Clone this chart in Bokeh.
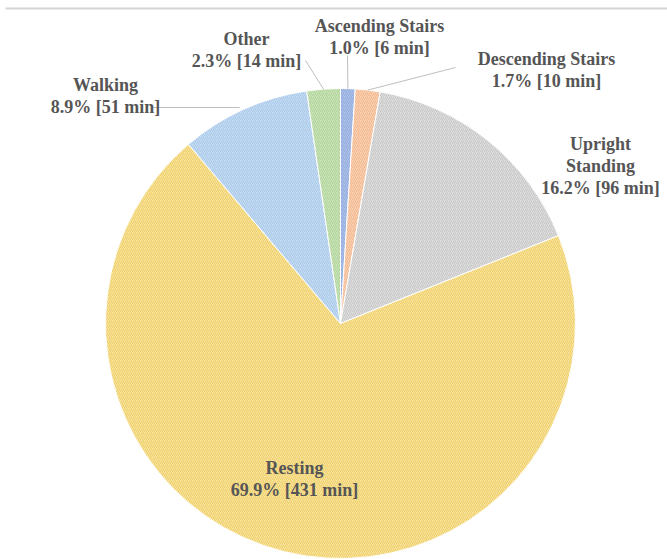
import math
from bokeh.plotting import figure
from bokeh.models import Range1d, ColumnDataSource
from bokeh.core.properties import value
from bokeh.embed import file_html
from bokeh.resources import INLINE

# ---- data ----
categories = ["Ascending Stairs", "Descending Stairs", "Upright Standing", "Resting", "Walking", "Other"]
percents = [1.0, 1.7, 16.2, 69.9, 8.9, 2.3]
minutes = [6, 10, 96, 431, 51, 14]
label_lines = [["Ascending Stairs"], ["Descending Stairs"], ["Upright", "Standing"], ["Resting"], ["Walking"], ["Other"]]

# ---- styles / layout ----
fill_colors = ["#ADC0E8", "#F9D2B6", "#DEDEDE", "#F9E29A", "#C5DBF1", "#CBE3BB"]
hatch_colors = ["#93ACDE", "#F3B68C", "#C6C6C6", "#EDCF6C", "#A9C9EA", "#AFD497"]
W, H = 667, 559
CX, CY, R = 340, 323, 235          # pixel geometry
label_pos = [(379, 25), (546, 58), (600, 143), (294, 467), (105, 84), (246, 38)]  # first-line centers (px)
leaders = [[(347, 55), None], [(455, 67), None], None, None, [(152, 107), None], [(305, 60), None]]
LINE_H = 22

def py(y):
    return H - y

p = figure(width=W, height=H, output_backend="svg", toolbar_location=None,
           x_range=Range1d(0, W), y_range=Range1d(0, H), min_border=0)
p.axis.visible = False
p.grid.visible = False
p.outline_line_color = None
p.background_fill_color = "white"
p.border_fill_color = "white"

# top rule line
p.segment(x0=[5], y0=[py(8)], x1=[W], y1=[py(8)], line_color="#D6D6D6", line_width=2)

total = sum(percents)
starts, ends, mids = [], [], []
cum = 0.0
for v in percents:
    c0 = cum / total
    cum += v
    c1 = cum / total
    starts.append(math.pi / 2 - c1 * 2 * math.pi)
    ends.append(math.pi / 2 - c0 * 2 * math.pi)
    mids.append(math.pi / 2 - (c0 + c1) / 2 * 2 * math.pi)

src = ColumnDataSource(dict(x=[CX] * len(percents), y=[py(CY)] * len(percents),
                            start=starts, end=ends, fill=fill_colors, hatch=hatch_colors))
p.wedge(x="x", y="y", radius=R, start_angle="start", end_angle="end", source=src,
        fill_color="fill", line_color="white", line_width=1,
        hatch_pattern="/", hatch_color="hatch", hatch_scale=4, hatch_weight=1)

# leader lines from label to slice midpoint on the rim
for i, ld in enumerate(leaders):
    if ld is None:
        continue
    sx, sy = ld[0]
    ex = CX + R * math.cos(mids[i])
    ey = py(CY) + R * math.sin(mids[i])
    if i == 4:
        p.line(x=[sx, ex - 4], y=[py(sy), py(sy)], line_color="#BFBFBF", line_width=1)
    else:
        p.line(x=[sx, ex], y=[py(sy), ey], line_color="#BFBFBF", line_width=1)

# labels
tx, ty, tt = [], [], []
for i in range(len(categories)):
    lines = label_lines[i] + [f"{percents[i]:.1f}% [{minutes[i]} min]"]
    x0, y0 = label_pos[i]
    for k, s in enumerate(lines):
        tx.append(x0)
        ty.append(py(y0 + k * LINE_H))
        tt.append(s)
p.text(x=tx, y=ty, text=tt, text_font=value("Liberation Serif"), text_font_style="bold",
       text_font_size="18px", text_color="#555555", text_align="center", text_baseline="middle")

open("out.html", "w").write(file_html(p, INLINE))
